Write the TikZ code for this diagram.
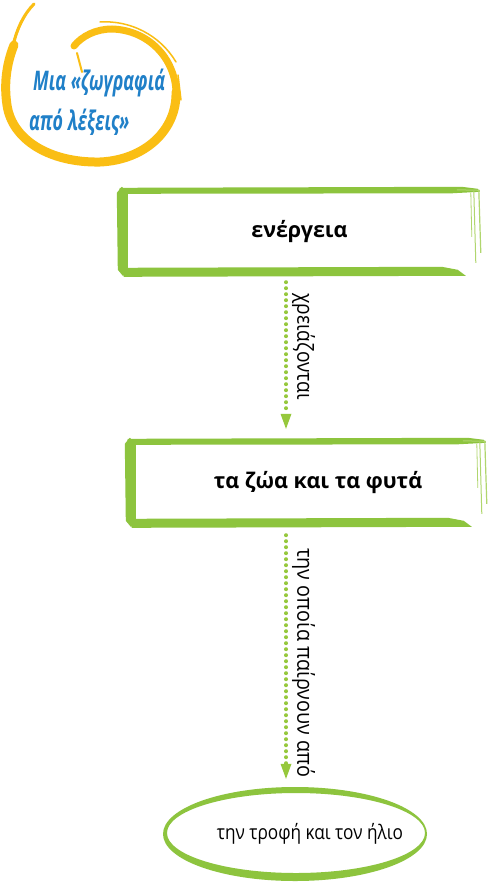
\documentclass[tikz,border=0pt]{standalone}
\usepackage{fontspec}
\setmainfont{Open Sans}
\newfontfamily\logofont{Open Sans}
\usetikzlibrary{arrows.meta,calc,shapes.geometric}
\definecolor{bgreen}{RGB}{141,196,62}
\definecolor{lgreen}{RGB}{176,214,110}
\definecolor{dgreen}{RGB}{150,200,60}
\definecolor{sunyellow}{RGB}{250,190,20}
\definecolor{logoblue}{RGB}{32,128,200}
\tikzset{
  boxnode/.style={inner sep=0pt, minimum width=#1, minimum height=90pt, font=\fontsize{21.5}{24}\selectfont\bfseries},
  dotarrow/.style={draw=dgreen, line width=4pt, line cap=round, dash pattern=on 0pt off 6pt,
     -{Triangle[width=11pt,length=15pt,fill=dgreen,line width=0pt]}},
  lab/.style={inner sep=0pt, font=\fontsize{22}{24}\selectfont},
  ovalnode/.style={ellipse, minimum width=264pt, minimum height=94pt, inner sep=0pt,
     font=\fontsize{20}{22}\selectfont},
  logotext/.style={logoblue, inner sep=0pt, anchor=base west},
}
\newcommand\brushframe[3]{% node, W, H
  \begin{scope}[shift={(#1.north west)}]
    \fill[bgreen] (3,1) -- (#2-20,0) -- (#2-4,2) -- (#2-2,5) -- (#2-30,6.5) -- (10,7) -- (2,5) -- cycle;
    \fill[bgreen] (0,6) -- (5,0) -- (11,5) -- (11,#3-9) -- (6,#3-1) -- (1,#3-7) -- cycle;
    \fill[bgreen] (4,#3-9) -- (#2-40,#3-10) -- (#2-24,#3-7) -- (#2-16,#3-1) -- (7,#3) -- cycle;
    \draw[lgreen, line width=1pt] (#2-8,4) -- (#2-6,#3-14);
    \draw[lgreen, line width=1.2pt] (#2-3,3) -- (#2-1,#3-24);
    \draw[lgreen, line width=0.8pt] (#2-11,6) -- (#2-10,#3-40);
    \draw[lgreen, line width=1pt] (#2-25,3) -- (#2-2,3.5);
  \end{scope}}
\begin{document}
\begin{tikzpicture}[x=1pt,y=-1pt]
\useasboundingbox[fill=white] (0,0) rectangle (498,886);
% logo swirl
\begin{scope}[sunyellow, line cap=round]
  \draw[line width=9pt] (14,45) .. controls (6,65) and (4,85) .. (7,105)
        .. controls (12,140) and (50,163) .. (100,162)
        .. controls (145,160) and (177,130) .. (176,92);
  \draw[line width=7pt] (176,92) .. controls (175,58) and (148,30) .. (112,29)
        .. controls (96,29) and (82,36) .. (74,46);
  \draw[line width=3pt] (34,4) .. controls (24,14) and (17,28) .. (13,46);
  \draw[line width=2pt] (26,14) .. controls (14,35) and (6,60) .. (4,90);
  \draw[line width=1.5pt] (100,22) .. controls (130,20) and (160,35) .. (176,62);
  \draw[line width=2pt] (77,53) -- (82,72);
  \draw[line width=1.5pt] (178,75) -- (181,100);
\end{scope}
\node[logotext] (t1) at (33,90)
  {\scalebox{0.66}[1]{\logofont\bfseries\itshape\fontsize{27}{30}\selectfont Μια «ζωγραφιά}};
\node[logotext] (t2) at (29,130)
  {\scalebox{0.66}[1]{\logofont\bfseries\itshape\fontsize{27}{30}\selectfont από λέξεις»}};
% boxes
\node[boxnode=365pt] (b1) at (299.5,232) {ενέργεια};
\brushframe{b1}{365}{90}
\node[boxnode=363pt] (b2) at (306.5,483) {\hspace*{23pt}τα ζώα και τα φυτά};
\brushframe{b2}{363}{90}
% oval
\node[ovalnode] (e) at (295,834) {\hspace*{30pt}\scalebox{0.86}[1]{την τροφή και τον ήλιο}};
\fill[bgreen, even odd rule] (e.center) ellipse [x radius=132, y radius=47]
      ($(e.center)+(1,-1)$) ellipse [x radius=129, y radius=40];
% arrows
\coordinate (ax) at (286,0);
\draw[dotarrow, shorten <=5pt, shorten >=9pt] (b1.south -| ax) -- (b2.north -| ax);
\draw[dotarrow, shorten <=7pt, shorten >=8pt] (b2.south -| ax) -- (e.north -| ax);
\node[lab, rotate=-90, anchor=south west] (l1) at (292,293) {\scalebox{0.87}[1]{χρειάζονται}};
\node[lab, rotate=-90, anchor=south west] (l2) at (292,548) {\scalebox{0.9}[1]{την οποία παίρνουν από}};
\end{tikzpicture}
\end{document}
